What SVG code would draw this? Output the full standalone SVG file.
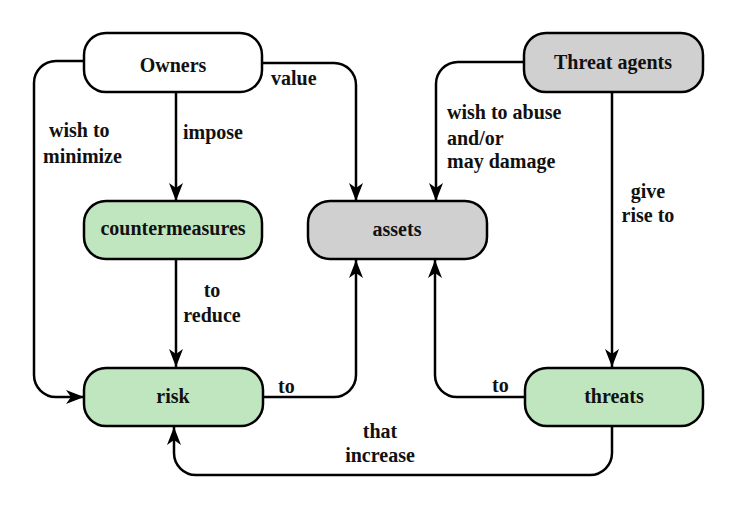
<svg xmlns="http://www.w3.org/2000/svg" width="731" height="515" viewBox="0 0 731 515">
<defs>
<style>
.box{stroke:#000;stroke-width:2.5}
.w{fill:#fff}
.g{fill:#c0e6c0}
.s{fill:#d0d0d0}
text{font-family:"Liberation Serif","Times New Roman",serif;font-weight:bold;font-size:20px;fill:#111}
.c{text-anchor:middle}
.ln{fill:none;stroke:#000;stroke-width:2.5;marker-end:url(#arr)}
</style>
<marker id="arr" markerUnits="userSpaceOnUse" markerWidth="20" markerHeight="16" refX="18" refY="8" orient="auto">
<path d="M0,1 L18,8 L0,15 L5,8 Z" fill="#000"/>
</marker>
</defs>
<rect width="731" height="515" fill="#fff"/>
<g id="connectors">
<path class="ln" d="M262,63 H334 A22,22 0 0 1 356,85 V201"/>
<path class="ln" d="M84,61 H56 A22,22 0 0 0 34,83 V375 A22,22 0 0 0 56,397 H84"/>
<path class="ln" d="M176,92 V201"/>
<path class="ln" d="M176,259 V367"/>
<path class="ln" d="M524,62 H458 A22,22 0 0 0 436,84 V201"/>
<path class="ln" d="M612,92 V367"/>
<path class="ln" d="M263,397 H334 A22,22 0 0 0 356,375 V260"/>
<path class="ln" d="M525,397 H457 A22,22 0 0 1 435,375 V260"/>
<path class="ln" d="M612,426 V453 A22,22 0 0 1 590,475 H196 A22,22 0 0 1 174,453 V427"/>
</g>
<g id="labels">
<text x="271" y="85">value</text>
<text x="49" y="137">wish to</text>
<text x="43" y="163">minimize</text>
<text x="183" y="139">impose</text>
<text x="447" y="119">wish to abuse</text>
<text x="447" y="145">and/or</text>
<text x="447" y="168">may damage</text>
<text class="c" x="648" y="198">give</text>
<text class="c" x="648" y="222">rise to</text>
<text class="c" x="212" y="297">to</text>
<text class="c" x="212" y="322">reduce</text>
<text x="278" y="393">to</text>
<text x="492" y="392">to</text>
<text class="c" x="380" y="438">that</text>
<text class="c" x="380" y="462">increase</text>
</g>
<g id="owners"><rect class="box w" x="84" y="33" width="178" height="59" rx="22"/><text class="c" x="173" y="72">Owners</text></g>
<g id="threat-agents"><rect class="box s" x="524" y="33" width="179" height="59" rx="22"/><text class="c" x="613" y="69">Threat agents</text></g>
<g id="countermeasures"><rect class="box g" x="84" y="201" width="178" height="58" rx="22"/><text class="c" x="173" y="235">countermeasures</text></g>
<g id="assets"><rect class="box s" x="308" y="201" width="179" height="58" rx="22"/><text class="c" x="397" y="236">assets</text></g>
<g id="risk"><rect class="box g" x="84" y="368" width="179" height="58" rx="22"/><text class="c" x="173" y="403">risk</text></g>
<g id="threats"><rect class="box g" x="525" y="368" width="178" height="58" rx="22"/><text class="c" x="614" y="403">threats</text></g>
</svg>
